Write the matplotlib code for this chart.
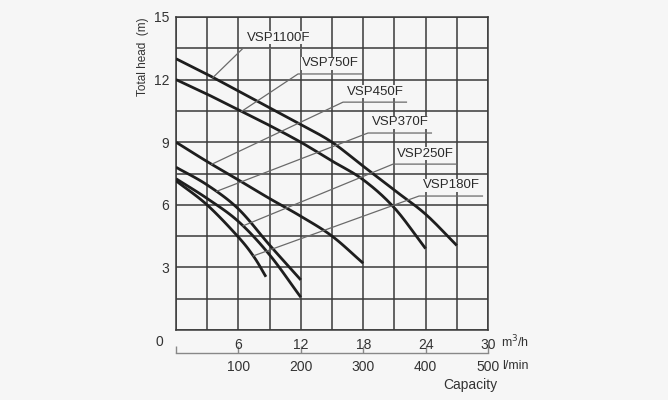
import numpy as np
import matplotlib
matplotlib.use("Agg")
import matplotlib.pyplot as plt

plt.rcParams['font.family'] = ['Liberation Sans', 'DejaVu Sans']

# curve data: capacity (m3/h) vs total head (m)
models = ["VSP1100F", "VSP750F", "VSP450F", "VSP370F", "VSP250F", "VSP180F"]
q_1100 = [0, 3, 6, 9, 12, 15, 18, 21, 24, 27]
h_1100 = [13.0, 12.25, 11.45, 10.65, 9.85, 9.0, 7.85, 6.7, 5.55, 4.05]
q_750 = [0, 3, 6, 9, 12, 15, 18, 21, 24]
h_750 = [12.0, 11.3, 10.55, 9.8, 9.0, 8.1, 7.2, 5.85, 3.9]
q_450 = [0, 3, 6, 9, 12, 15, 18]
h_450 = [9.0, 8.07, 7.19, 6.3, 5.45, 4.5, 3.2]
q_370 = [0, 3, 6, 9, 12]
h_370 = [7.8, 6.95, 5.8, 4.07, 2.4]
q_250 = [0, 3, 6, 9, 12]
h_250 = [7.25, 6.3, 5.2, 3.6, 1.57]
q_180 = [0, 3, 6, 7.5, 8.65]
h_180 = [7.15, 5.99, 4.45, 3.5, 2.55]

curves = [(q_1100, h_1100), (q_750, h_750), (q_450, h_450),
          (q_370, h_370), (q_250, h_250), (q_180, h_180)]

# label placement (underline start x, y) and leader target on curve (x)
label_pos = [(6.44, 13.5), (11.73, 12.27), (16.06, 10.92),
             (18.46, 9.44), (20.87, 7.95), (23.37, 6.42)]
line_len = 6.1
leader_x = [3.56, 6.3, 3.43, 3.9, 6.45, 7.43]


def smooth_curve(q, h, n=20):
    # Catmull-Rom through the read points, for drawing only
    p = np.column_stack([q, h]).astype(float)
    p = np.vstack([2 * p[0] - p[1], p, 2 * p[-1] - p[-2]])
    t = np.linspace(0, 1, n, endpoint=False)[:, None]
    out = []
    for i in range(1, len(p) - 2):
        p0, p1, p2, p3 = p[i - 1], p[i], p[i + 1], p[i + 2]
        seg = 0.5 * (2 * p1 + (-p0 + p2) * t + (2 * p0 - 5 * p1 + 4 * p2 - p3) * t ** 2
                     + (-p0 + 3 * p1 - 3 * p2 + p3) * t ** 3)
        out.append(seg)
    out.append(p[-2][None, :])
    out = np.vstack(out)
    return out[:, 0], out[:, 1]


bg = '#f6f6f6'
fig = plt.figure(figsize=(6.68, 4.0), dpi=100, facecolor=bg)
ax = fig.add_axes([0.2635, 0.175, 0.467, 0.7825])
ax.set_facecolor(bg)
ax.set_xlim(0, 30)
ax.set_ylim(0, 15)

ax.set_xticks(np.arange(0, 31, 3))
ax.set_xticklabels(['' if (v % 6 or v == 0) else str(v) for v in range(0, 31, 3)])
ax.set_yticks(np.arange(0, 15.1, 1.5))
ax.set_yticklabels(['' if (v % 3 or v == 0) else str(int(v)) for v in np.arange(0, 15.1, 1.5)])
ax.tick_params(length=0, labelsize=10, colors='#333333', pad=5)
ax.tick_params(axis='x', pad=6)
ax.grid(True, color='#3a3a3a', lw=1.1)
for s in ax.spines.values():
    s.set_color('#3a3a3a')
    s.set_linewidth(1.1)

smooth = []
for (q, h) in curves:
    qs, hs = smooth_curve(q, h)
    smooth.append((qs, hs))
    ax.plot(qs, hs, color='#1e1e1e', lw=2, solid_capstyle='butt', zorder=3)

for name, (qs, hs), (lx, ly), tx in zip(models, smooth, label_pos, leader_x):
    ty = np.interp(tx, qs, hs)
    ax.plot([tx, lx, lx + line_len], [ty, ly, ly], color='#6a6a6a', lw=0.9, zorder=4)
    ax.text(lx + 0.35, ly + 0.22, name, fontsize=9.5, color='#2a2a2a', ha='left', va='bottom',
            zorder=5, bbox=dict(facecolor=bg, edgecolor='none', pad=0.5))

ax.text(-1.6, -0.57, '0', fontsize=10, color='#333333', ha='center', va='center', clip_on=False)
ax.text(31.3, -0.57, 'm$^3$/h', fontsize=9, color='#333333', ha='left', va='center', clip_on=False)

# second capacity scale in l/min
sec = ax.secondary_xaxis(-0.0735, functions=(lambda x: x * 100 / 6, lambda x: x * 6 / 100))
sec.set_xticks(np.arange(0, 501, 100))
sec.set_xticklabels([''] + [str(v) for v in range(100, 501, 100)], fontsize=10)
sec.tick_params(direction='in', length=5, width=1, color='#888888',
                labelcolor='#333333', pad=5)
sec.spines['bottom'].set_color('#888888')
sec.spines['bottom'].set_linewidth(1)
ax.text(31.4, -1.72, 'l/min', fontsize=9, color='#333333', ha='left', va='center', clip_on=False)
ax.text(30.9, -2.62, 'Capacity', fontsize=10, color='#333333', ha='right', va='center', clip_on=False)

fig.text(143 / 668, 1 - 57 / 400, 'Total head  (m)', rotation=90, fontsize=8.5,
         color='#333333', ha='center', va='center')

fig.savefig('out.png', dpi=100, facecolor=bg)
